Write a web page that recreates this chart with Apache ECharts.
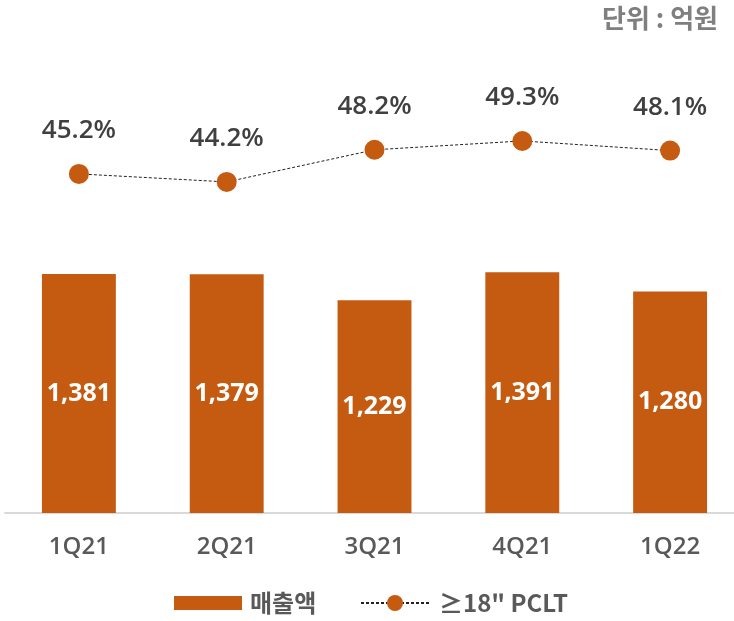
<!DOCTYPE html>
<html>
<head>
<meta charset="utf-8">
<script src="https://cdn.jsdelivr.net/npm/echarts@6/dist/echarts.min.js"></script>
<style>
  html, body { margin: 0; padding: 0; background: #fff; }
  #chart { width: 734px; height: 621px; }
</style>
</head>
<body>
<div id="chart"></div>
<script>
  // data
  var quarters = ["1Q21", "2Q21", "3Q21", "4Q21", "1Q22"];
  var sales = [1381, 1379, 1229, 1391, 1280];
  var pcltShare = [45.2, 44.2, 48.2, 49.3, 48.1];
  var seriesNames = ["매출액", "≥18\" PCLT"];

  var orange = "#c55a11";
  var legendText = {
    fontFamily: "Noto Sans CJK KR",
    fontSize: 24,
    fontWeight: "bold",
    color: "#595959",
  };
  var chart = echarts.init(document.getElementById("chart"));

  chart.setOption({
    animation: false,
    title: {
      text: "단위 : 억원",
      right: 16,
      top: 5,
      padding: 0,
      textStyle: {
        fontFamily: "Noto Sans CJK KR",
        fontSize: 26,
        fontWeight: "bold",
        color: "#7f7f7f",
      },
    },
    grid: {
      left: 5,
      top: 63,
      width: 739,
      height: 450,
      outerBoundsMode: "none",
    },
    legend: [
      {
        top: 591,
        left: 174,
        padding: 0,
        itemWidth: 68,
        itemHeight: 14,
        data: [{ name: seriesNames[0], icon: "rect" }],
        textStyle: Object.assign({ padding: [0, 0, 0, 3] }, legendText),
      },
      {
        top: 591,
        left: 360,
        padding: 0,
        itemWidth: 68,
        itemHeight: 20,
        data: [{ name: seriesNames[1] }],
        textStyle: Object.assign({ padding: [0, 0, 0, 5] }, legendText),
      },
    ],
    xAxis: {
      type: "category",
      data: quarters,
      axisTick: { show: false },
      axisLine: { lineStyle: { color: "#d9d9d9", width: 2 } },
      axisLabel: {
        margin: 22,
        fontFamily: "Open Sans",
        fontSize: 24,
        fontWeight: 600,
        color: "#595959",
      },
    },
    yAxis: [
      { type: "value", min: 0, max: 2600, show: false },
      { type: "value", min: 3, max: 59, show: false },
    ],
    series: [
      {
        name: seriesNames[0],
        type: "bar",
        data: sales,
        barWidth: "50%",
        itemStyle: { color: orange },
        label: {
          show: true,
          position: "inside",
          formatter: function (p) {
            return p.value.toLocaleString("en-US");
          },
          fontFamily: "Open Sans",
          fontSize: 25,
          fontWeight: "bold",
          letterSpacing: -1.5,
          color: "#fff",
        },
      },
      {
        name: seriesNames[1],
        type: "line",
        yAxisIndex: 1,
        data: pcltShare,
        symbol: "circle",
        symbolSize: 20,
        itemStyle: { color: orange },
        lineStyle: { color: "#222", width: 1, type: [3, 2] },
        label: {
          show: true,
          position: "top",
          distance: 20,
          formatter: "{c}%",
          fontFamily: "Open Sans",
          fontSize: 26,
          fontWeight: 600,
          color: "#404040",
        },
      },
    ],
  });
</script>
</body>
</html>
